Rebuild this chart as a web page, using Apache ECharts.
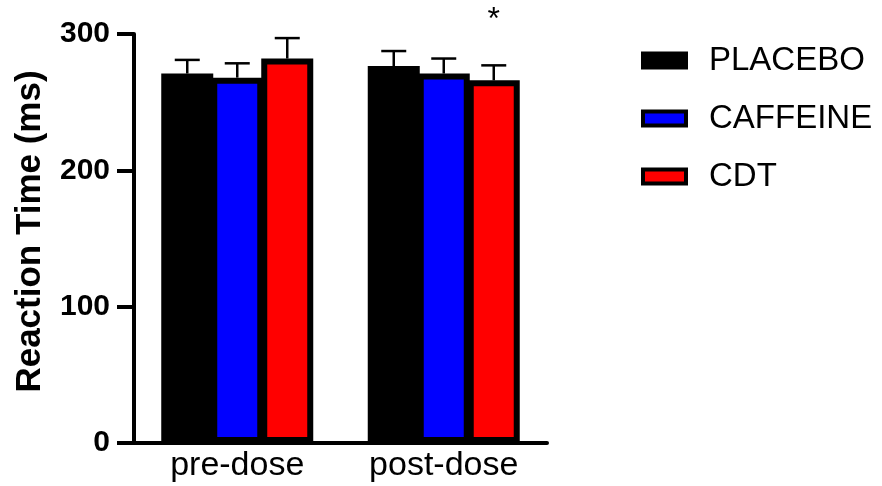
<!DOCTYPE html>
<html>
<head>
<meta charset="utf-8">
<script src="https://cdn.jsdelivr.net/npm/echarts@6/dist/echarts.min.js"></script>
<style>
html,body{margin:0;padding:0;background:#fff;}
#chart{width:882px;height:486px;}
</style>
</head>
<body>
<div id="chart"></div>
<script>
// ---- data ----
const categories = ['pre-dose', 'post-dose'];
const seriesNames = ['PLACEBO', 'CAFFEINE', 'CDT'];
const placebo = [271, 276.5];
const caffeine = [268, 271];
const cdt = [282, 266];
const placeboErr = [10, 11];
const caffeineErr = [10.5, 11];
const cdtErr = [15, 11];
const placeboSig = ['', ''];
const caffeineSig = ['', ''];
const cdtSig = ['', '*'];
const yMin = 0, yMax = 300, yInterval = 100;
const yTitle = 'Reaction Time (ms)';

// ---- style ----
const FONT = 'Liberation Sans, Arial, sans-serif';
const fills = ['#000000', '#0000ff', '#ff0000'];
const BAR_W = 52;
const BAR_GAP = '-3.85%';
const BAR_STEP = 50;
const BORDER = 6;

const values = [placebo, caffeine, cdt];
const errs = [placeboErr, caffeineErr, cdtErr];
const sigs = [placeboSig, caffeineSig, cdtSig];

const barSeries = seriesNames.map((name, k) => ({
  name: name,
  type: 'bar',
  barWidth: BAR_W,
  barGap: BAR_GAP,
  z: 2,
  itemStyle: { color: fills[k], borderColor: '#000', borderWidth: BORDER },
  emphasis: { disabled: true },
  data: values[k]
}));

const errSeries = seriesNames.map((name, k) => ({
  name: 'err-' + name,
  type: 'custom',
  z: 3,
  silent: true,
  data: categories.map((c, i) => [i, values[k][i], errs[k][i]]),
  renderItem: function (params, api) {
    const ci = api.value(0);
    const v = api.value(1);
    const e = api.value(2);
    const sig = sigs[k][params.dataIndex];
    const base = api.coord([ci, v]);
    const top = api.coord([ci, v + e]);
    const x = base[0] + (k - 1) * BAR_STEP;
    const children = [
      { type: 'line', shape: { x1: x, y1: base[1], x2: x, y2: top[1] },
        style: { stroke: '#000', lineWidth: 2.5 } },
      { type: 'line', shape: { x1: x - 12.5, y1: top[1], x2: x + 12.5, y2: top[1] },
        style: { stroke: '#000', lineWidth: 2.5 } }
    ];
    if (sig) {
      children.push({ type: 'text', x: x, y: top[1] - 45,
        style: { text: sig, fill: '#000', font: '32px ' + FONT, align: 'center', verticalAlign: 'middle' } });
    }
    return { type: 'group', children: children };
  }
}));

const chart = echarts.init(document.getElementById('chart'), null, { renderer: 'canvas' });
chart.setOption({
  animation: false,
  backgroundColor: '#fff',
  textStyle: { fontFamily: FONT },
  grid: { left: 134, right: 335, top: 34, bottom: 43, containLabel: false },
  legend: {
    orient: 'vertical',
    left: 636,
    top: 39,
    data: seriesNames,
    icon: 'rect',
    itemWidth: 43,
    itemHeight: 14,
    itemGap: 25,
    itemStyle: { borderColor: '#000', borderWidth: 4 },
    selectedMode: false,
    textStyle: { fontFamily: FONT, fontSize: 33, color: '#000', padding: [0, 0, 0, 18] }
  },
  xAxis: {
    type: 'category',
    data: categories,
    axisLine: { lineStyle: { color: '#000', width: 4 } },
    axisTick: { show: false },
    axisLabel: { color: '#000', fontSize: 34, fontFamily: FONT, margin: 6 }
  },
  yAxis: {
    type: 'value',
    min: yMin, max: yMax, interval: yInterval,
    name: yTitle,
    nameLocation: 'middle',
    nameGap: 86,
    nameTextStyle: { color: '#000', fontSize: 35, fontWeight: 'bold', fontFamily: FONT, padding: [0, 0, 0, 14] },
    axisLine: { show: true, lineStyle: { color: '#000', width: 4 } },
    axisTick: { show: true, length: 17, lineStyle: { color: '#000', width: 4 } },
    splitLine: { show: false },
    axisLabel: { color: '#000', fontSize: 30, fontWeight: 'bold', fontFamily: FONT, margin: 24 }
  },
  series: barSeries.concat(errSeries)
});
</script>
</body>
</html>
